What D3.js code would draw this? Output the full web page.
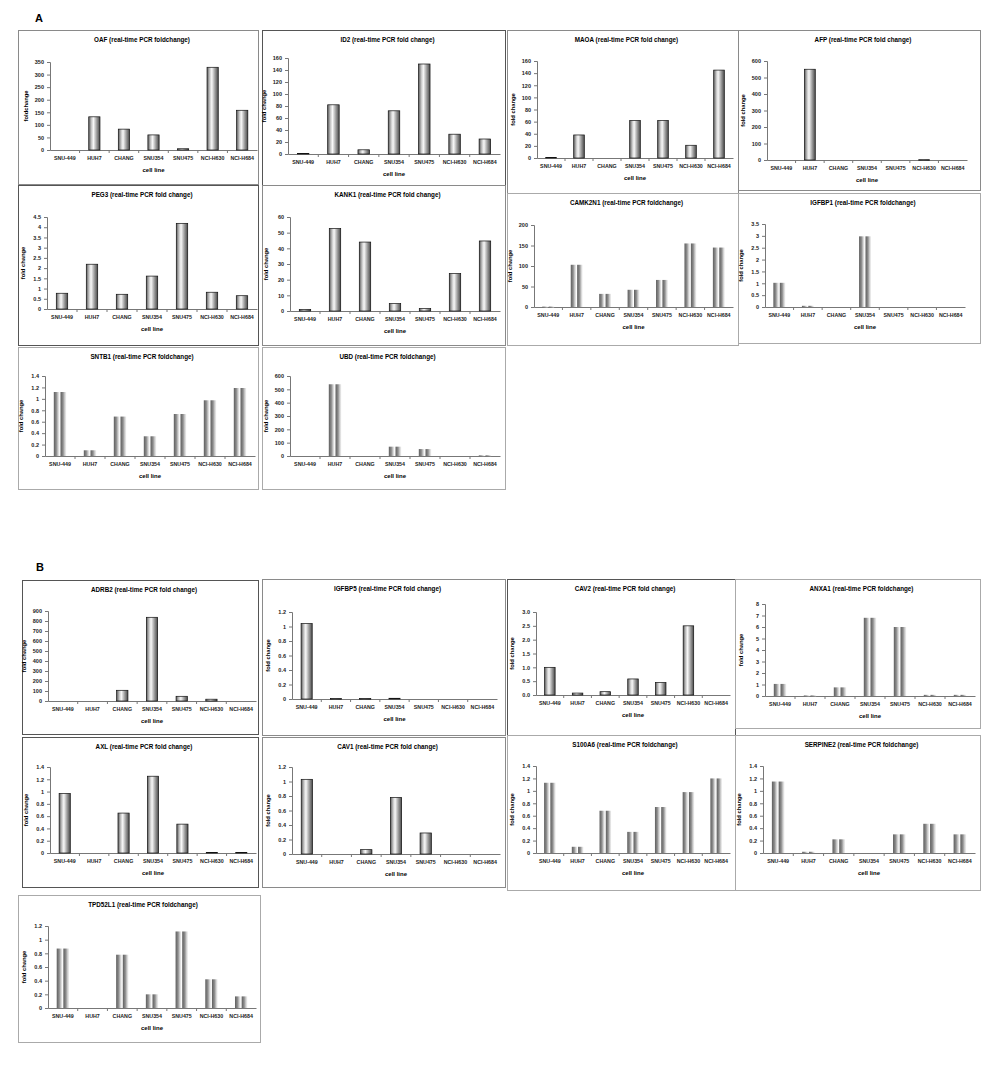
<!DOCTYPE html>
<html><head><meta charset="utf-8">
<script src="https://cdn.jsdelivr.net/npm/d3@7"></script>
<style>body{margin:0;background:#fff}svg{display:block}text{font-family:"Liberation Sans",Arial,sans-serif}</style>
</head><body><svg id="c" width="982" height="1075"></svg>
<script>
const categories = ["SNU-449","HUH7","CHANG","SNU354","SNU475","NCI-H630","NCI-H684"];
const OAF      = [0,132,83,60,5,329,158];
const ID2      = [1,82,7,72,150,33,25];
const MAOA     = [1,38,0,62,62,21,145];
const AFP      = [0,550,0,0,0,2,0];
const PEG3     = [0.77,2.19,0.72,1.61,4.19,0.82,0.65];
const KANK1    = [1,52.6,44,4.7,1.5,23.9,44.7];
const CAMK2N1  = [1,103,32,42,66,155,145];
const IGFBP1   = [1.02,0.05,0,2.98,0,0,0];
const SNTB1    = [1.12,0.1,0.69,0.345,0.735,0.975,1.19];
const UBD      = [0,538,0,70,52,0,5];
const ADRB2    = [0,0,107,837,47,18,0];
const IGFBP5   = [1.04,0.005,0.005,0.01,0,0,0];
const CAV2     = [1.0,0.07,0.12,0.58,0.45,2.5,0];
const ANXA1    = [1.05,0.05,0.75,6.8,6.0,0.1,0.1];
const AXL      = [0.97,0,0.65,1.25,0.47,0.01,0.01];
const CAV1     = [1.03,0,0.06,0.78,0.29,0,0];
const S100A6   = [1.13,0.1,0.68,0.34,0.74,0.98,1.2];
const SERPINE2 = [1.15,0.02,0.22,0,0.3,0.47,0.3];
const TPD52L1  = [0.87,0,0.78,0.2,1.12,0.42,0.17];
const yMaxes   = [350,160,160,600,4.5,60,200,3.5,1.4,600,900,1.2,3.0,8,1.4,1.2,1.4,1.4,1.2];
const ySteps   = [50,20,20,100,0.5,10,50,0.5,0.2,100,100,0.2,0.5,1,0.2,0.2,0.2,0.2,0.2];

const genes = [
 ["OAF","OAF (real-time PCR foldchange)",OAF],
 ["ID2","ID2 (real-time PCR fold change)",ID2],
 ["MAOA","MAOA (real-time PCR fold change)",MAOA],
 ["AFP","AFP (real-time PCR fold change)",AFP],
 ["PEG3","PEG3 (real-time PCR fold change)",PEG3],
 ["KANK1","KANK1 (real-time PCR fold change)",KANK1],
 ["CAMK2N1","CAMK2N1 (real-time PCR foldchange)",CAMK2N1],
 ["IGFBP1","IGFBP1 (real-time PCR foldchange)",IGFBP1],
 ["SNTB1","SNTB1 (real-time PCR foldchange)",SNTB1],
 ["UBD","UBD (real-time PCR foldchange)",UBD],
 ["ADRB2","ADRB2 (real-time PCR fold change)",ADRB2],
 ["IGFBP5","IGFBP5 (real-time PCR fold change)",IGFBP5],
 ["CAV2","CAV2 (real-time PCR fold change)",CAV2],
 ["ANXA1","ANXA1 (real-time PCR foldchange)",ANXA1],
 ["AXL","AXL (real-time PCR fold change)",AXL],
 ["CAV1","CAV1 (real-time PCR fold change)",CAV1],
 ["S100A6","S100A6 (real-time PCR foldchange)",S100A6],
 ["SERPINE2","SERPINE2 (real-time PCR foldchange)",SERPINE2],
 ["TPD52L1","TPD52L1 (real-time PCR foldchange)",TPD52L1]
];

const layout = [
 {box:[18,30,240,154], ax:50, r:257, top:62, base:150, dbl:false, border:"#8a8a8a"},
 {box:[262,30,243,155], ax:288, r:500, top:58, base:154, dbl:false, border:"#555"},
 {box:[507,30,231,163], ax:537, r:733, top:61, base:158, dbl:false, border:"#8a8a8a"},
 {box:[738,30,242,160], ax:767, r:967, top:61, base:160, dbl:false, border:"#8a8a8a"},
 {box:[18,185,240,160], ax:47, r:257, top:217, base:309, dbl:false, border:"#555"},
 {box:[262,185,243,160], ax:290, r:500, top:217, base:311, dbl:false, border:"#8a8a8a"},
 {box:[507,193,231,152], ax:534, r:733, top:225, base:307, dbl:true, border:"#aaa"},
 {box:[738,193,242,150], ax:765, r:965, top:224, base:307, dbl:true, border:"#aaa"},
 {box:[18,347,240,142], ax:45, r:255, top:376, base:456, dbl:true, border:"#aaa"},
 {box:[262,347,243,142], ax:290, r:500, top:376, base:456, dbl:true, border:"#aaa"},
 {box:[22,580,236,154], ax:48, r:256, top:611, base:701, dbl:false, border:"#555"},
 {box:[262,579,243,156], ax:292, r:497, top:612, base:699, dbl:false, border:"#8a8a8a"},
 {box:[507,579,228,156], ax:536, r:730, top:612, base:695, dbl:false, border:"#555"},
 {box:[735,579,245,149], ax:765, r:975, top:604, base:696, dbl:true, border:"#aaa"},
 {box:[22,737,236,150], ax:50, r:256, top:767, base:853, dbl:false, border:"#555"},
 {box:[262,737,243,150], ax:292, r:500, top:767, base:854, dbl:false, border:"#8a8a8a"},
 {box:[507,735,228,155], ax:536, r:730, top:766, base:853, dbl:true, border:"#aaa"},
 {box:[735,735,245,155], ax:763, r:975, top:766, base:853, dbl:true, border:"#aaa"},
 {box:[18,895,242,147], ax:48, r:256, top:926, base:1008, dbl:true, border:"#aaa"}
];

const svg = d3.select("#c");
const defs = svg.append("defs");
const g1 = defs.append("linearGradient").attr("id","cyl").attr("x1","0").attr("x2","1").attr("y1","0").attr("y2","0");
[[0,"#5a5a5a"],[0.25,"#c8c8c8"],[0.42,"#f8f8f8"],[0.7,"#a0a0a0"],[1,"#4a4a4a"]].forEach(([o,c])=>g1.append("stop").attr("offset",o).attr("stop-color",c));
const g2 = defs.append("linearGradient").attr("id","cyl2").attr("x1","0").attr("x2","1").attr("y1","0").attr("y2","0");
[[0,"#5e5e5e"],[0.45,"#8e8e8e"],[0.8,"#d8d8d8"],[1,"#eeeeee"]].forEach(([o,c])=>g2.append("stop").attr("offset",o).attr("stop-color",c));

svg.append("text").attr("x",35).attr("y",22).attr("font-size",11).attr("font-weight","bold").text("A");
svg.append("text").attr("x",36).attr("y",571).attr("font-size",11).attr("font-weight","bold").text("B");

genes.forEach(([gene,title,vals],i)=>{
  const L = layout[i];
  const [bx,by,bw,bh] = L.box;
  const g = svg.append("g");
  g.append("rect").attr("x",bx+0.5).attr("y",by+0.5).attr("width",bw).attr("height",bh)
    .attr("fill","#fff").attr("stroke",L.border).attr("stroke-width",1);
  g.append("text").attr("x",(bx+bw/2)+4).attr("y",by+12).attr("text-anchor","middle")
    .attr("font-size",6.3).attr("font-weight","bold").text(title);

  const x = d3.scaleBand().domain(categories).range([L.ax, L.r]);
  const y = d3.scaleLinear().domain([0,yMaxes[i]]).range([L.base, L.top]);
  const step = ySteps[i];
  const ticks = d3.range(0, yMaxes[i]+step/2, step).map(v=>+v.toFixed(3));
  const fmt = gene==="CAV2" ? d3.format(".1f") : (v=>String(+v.toFixed(2)));

  const ya = g.append("g").attr("transform",`translate(${L.ax},0)`)
    .call(d3.axisLeft(y).tickValues(ticks).tickFormat(fmt).tickSize(3).tickPadding(3));
  ya.select(".domain").attr("stroke","#777");
  ya.selectAll(".tick line").attr("stroke","#777");
  ya.selectAll("text").attr("font-size",5.5).attr("font-weight","bold").attr("fill","#222");

  const xa = g.append("g").attr("transform",`translate(0,${L.base})`)
    .call(d3.axisBottom(x).tickSize(0).tickPadding(6));
  xa.select(".domain").attr("stroke","#777");
  xa.selectAll("text").attr("font-size",5.3).attr("font-weight","bold").attr("fill","#222");
  g.selectAll(".sep").data(categories.slice(1)).join("line")
    .attr("x1",d=>x(d)).attr("x2",d=>x(d)).attr("y1",L.base).attr("y2",L.base+3).attr("stroke","#777");

  g.append("text").attr("x",(L.ax+L.r)/2).attr("y",L.base+22).attr("text-anchor","middle")
    .attr("font-size",6).attr("font-weight","bold").text("cell line");
  g.append("text").attr("transform",`translate(${L.ax-22},${(L.top+L.base)/2}) rotate(-90)`)
    .attr("text-anchor","middle").attr("font-size",5.8).attr("font-weight","bold")
    .text(gene==="OAF"?"foldchange":"fold change");

  const bwid = x.bandwidth()*0.38;
  const data = categories.map((c,k)=>({c, v:vals[k]}));
  if(!L.dbl){
    g.selectAll(".bar").data(data.filter(d=>d.v>0)).join("rect")
      .attr("x",d=>x(d.c)+x.bandwidth()/2-bwid/2).attr("width",bwid)
      .attr("y",d=>y(d.v)).attr("height",d=>Math.max(0.6,L.base-y(d.v)))
      .attr("fill","url(#cyl)").attr("stroke","#111").attr("stroke-width",0.7);
  } else {
    const sw = bwid*0.5;
    [0,1].forEach(s=>{
      g.selectAll(".bar"+s).data(data.filter(d=>d.v>0)).join("rect")
        .attr("x",d=>x(d.c)+x.bandwidth()/2-bwid/2 - 0.5 + s*(sw+1)).attr("width",sw)
        .attr("y",d=>y(d.v)).attr("height",d=>Math.max(0.8,L.base-y(d.v)))
        .attr("fill","url(#cyl2)");
    });
  }
});
</script></body></html>
